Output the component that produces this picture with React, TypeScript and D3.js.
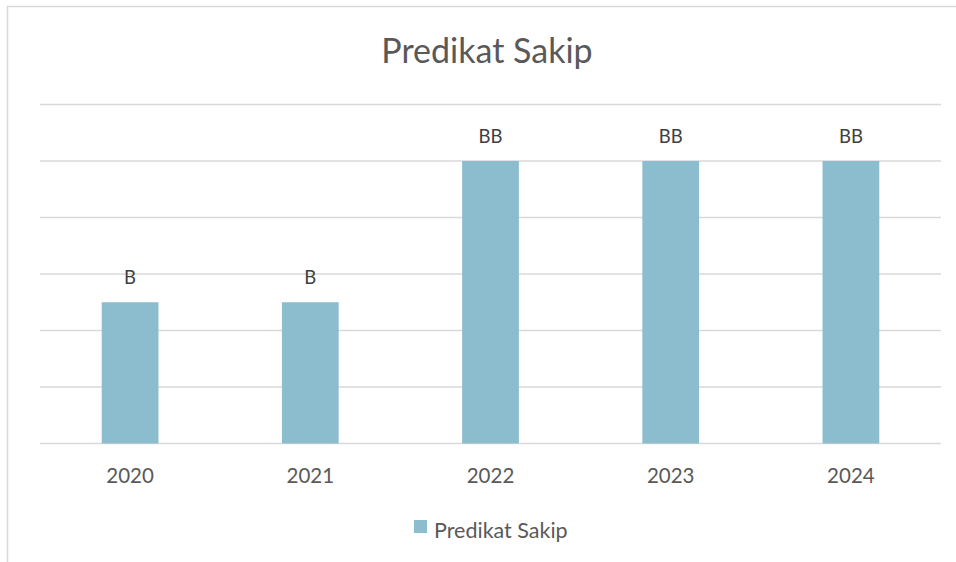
import React, { useRef, useEffect } from "react";
import * as d3 from "d3";

const years = ["2020", "2021", "2022", "2023", "2024"];
const values = [2.5, 2.5, 5, 5, 5];
const labels = ["B", "B", "BB", "BB", "BB"];
const yTicks = [0, 1, 2, 3, 4, 5, 6];

const W = 956;
const H = 562;
const font = "Lato, 'Open Sans', sans-serif";

const App = () => {
  const ref = useRef<SVGSVGElement>(null);

  useEffect(() => {
    const svg = d3.select(ref.current);
    svg.selectAll("*").remove();

    const left = 40,
      right = 941,
      top = 104.5,
      bottom = 443.5;

    // chart frame (only left/top edges are visible)
    svg
      .append("rect")
      .attr("x", 7.5)
      .attr("y", 6.5)
      .attr("width", 1100)
      .attr("height", 700)
      .attr("fill", "#fff")
      .attr("stroke", "#d9d9d9")
      .attr("stroke-width", 1.5);

    const x = d3.scaleBand().domain(years).range([left, right]).paddingInner(0.685).paddingOuter(0.3425);
    const y = d3.scaleLinear().domain([0, 6]).range([bottom, top]);

    svg
      .append("text")
      .attr("x", 487)
      .attr("y", 63)
      .attr("text-anchor", "middle")
      .attr("font-family", font)
      .attr("font-size", 34)
      .attr("fill", "#595959")
      .text("Predikat Sakip");

    svg
      .append("g")
      .selectAll("line")
      .data(yTicks)
      .join("line")
      .attr("x1", left)
      .attr("x2", right)
      .attr("y1", (d) => y(d))
      .attr("y2", (d) => y(d))
      .attr("stroke", "#d9d9d9")
      .attr("stroke-width", 1.5);

    svg
      .append("g")
      .selectAll("rect")
      .data(values)
      .join("rect")
      .attr("x", (_, i) => x(years[i])!)
      .attr("width", x.bandwidth())
      .attr("y", (d) => y(d))
      .attr("height", (d) => y(0) - y(d))
      .attr("fill", "#8bbdce");

    svg
      .append("g")
      .selectAll("text")
      .data(values)
      .join("text")
      .attr("x", (_, i) => x(years[i])! + x.bandwidth() / 2)
      .attr("y", (d) => y(d) - 18)
      .attr("text-anchor", "middle")
      .attr("font-family", font)
      .attr("font-size", 18.5)
      .attr("fill", "#404040")
      .text((_, i) => labels[i]);

    svg
      .append("g")
      .selectAll("text")
      .data(years)
      .join("text")
      .attr("x", (d) => x(d)! + x.bandwidth() / 2)
      .attr("y", 483)
      .attr("text-anchor", "middle")
      .attr("font-family", font)
      .attr("font-size", 20.5)
      .attr("fill", "#595959")
      .text((d) => d);

    const legend = svg.append("g");
    legend
      .append("rect")
      .attr("x", 414)
      .attr("y", 520)
      .attr("width", 13)
      .attr("height", 13)
      .attr("fill", "#8bbdce");
    legend
      .append("text")
      .attr("x", 434)
      .attr("y", 538)
      .attr("font-family", font)
      .attr("font-size", 21.5)
      .attr("fill", "#595959")
      .text("Predikat Sakip");
  }, []);

  return (
    <svg
      ref={ref}
      width={W}
      height={H}
      style={{ position: "fixed", left: 0, top: 0, background: "#fff" }}
    />
  );
};

export default App;
